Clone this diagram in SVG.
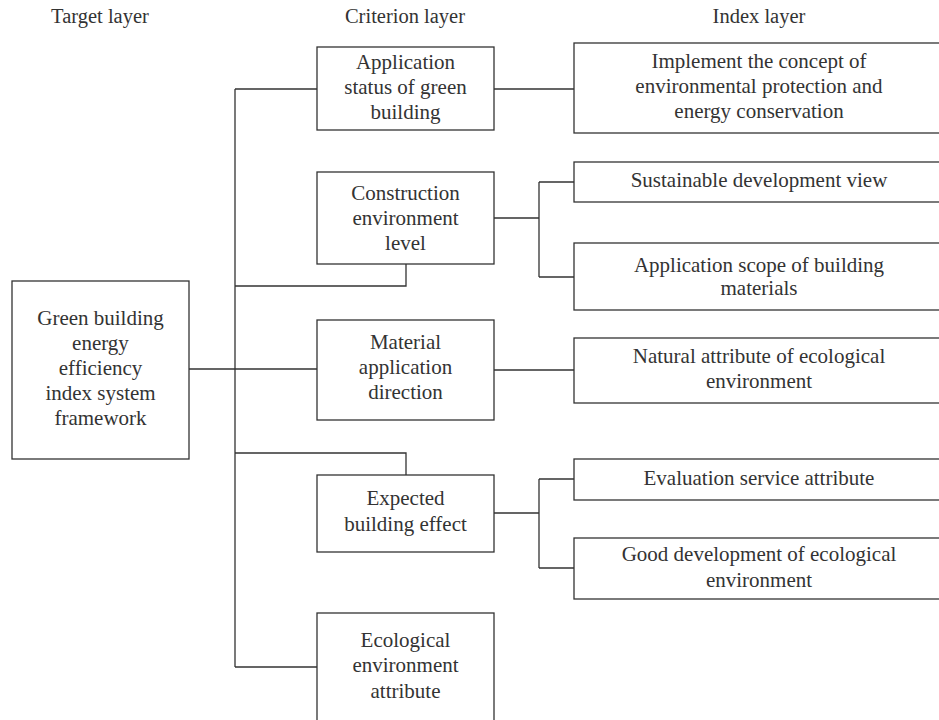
<svg xmlns="http://www.w3.org/2000/svg" width="939" height="720" viewBox="0 0 939 720">
<style>
rect{fill:#fff;stroke:#333;stroke-width:1.3}
.c path{fill:none;stroke:#333;stroke-width:1.3}
text{font-family:"Liberation Serif",serif;font-size:21px;fill:#333;text-anchor:middle}
.h{font-size:20.5px}
</style>
<rect x="-5" y="-5" width="950" height="730" style="stroke:none"/>
<text class="h" x="100" y="23">Target layer</text>
<text class="h" x="405" y="23">Criterion layer</text>
<text class="h" x="759" y="23">Index layer</text>
<g class="c" id="connectors">
<path d="M189 369H235M235 89V667M235 89H317M235 286H406V264M235 369H317M235 453H406V475M235 667H317"/>
<path d="M494 89H574M494 218H539M539 182V277M539 182H574M539 277H574M494 370H574M494 513H539M539 479V568M539 479H574M539 568H574"/>
</g>
<g id="target"><rect x="12" y="281" width="177" height="178"/>
<text x="100.5" y="325">Green building</text><text x="100.5" y="350">energy</text><text x="100.5" y="375">efficiency</text><text x="100.5" y="400">index system</text><text x="100.5" y="425">framework</text></g>
<g id="c1"><rect x="317" y="47" width="177" height="83"/>
<text x="405.5" y="69">Application</text><text x="405.5" y="94">status of green</text><text x="405.5" y="119">building</text></g>
<g id="c2"><rect x="317" y="172" width="177" height="92"/>
<text x="405.5" y="200">Construction</text><text x="405.5" y="225">environment</text><text x="405.5" y="250">level</text></g>
<g id="c3"><rect x="317" y="320" width="177" height="100"/>
<text x="405.5" y="349">Material</text><text x="405.5" y="374">application</text><text x="405.5" y="399">direction</text></g>
<g id="c4"><rect x="317" y="475" width="177" height="77"/>
<text x="405.5" y="505">Expected</text><text x="405.5" y="531">building effect</text></g>
<g id="c5"><rect x="317" y="613" width="177" height="120"/>
<text x="405.5" y="647">Ecological</text><text x="405.5" y="672">environment</text><text x="405.5" y="698">attribute</text></g>
<g id="i1"><rect x="574" y="43" width="371" height="90"/>
<text x="759" y="68">Implement the concept of</text><text x="759" y="93">environmental protection and</text><text x="759" y="118">energy conservation</text></g>
<g id="i2"><rect x="574" y="162" width="371" height="40"/>
<text x="759" y="187">Sustainable development view</text></g>
<g id="i3"><rect x="574" y="243" width="371" height="67"/>
<text x="759" y="272">Application scope of building</text><text x="759" y="295">materials</text></g>
<g id="i4"><rect x="574" y="338" width="371" height="65"/>
<text x="759" y="363">Natural attribute of ecological</text><text x="759" y="388">environment</text></g>
<g id="i5"><rect x="574" y="459" width="371" height="41"/>
<text x="759" y="485">Evaluation service attribute</text></g>
<g id="i6"><rect x="574" y="538" width="371" height="61"/>
<text x="759" y="561">Good development of ecological</text><text x="759" y="587">environment</text></g>
</svg>
